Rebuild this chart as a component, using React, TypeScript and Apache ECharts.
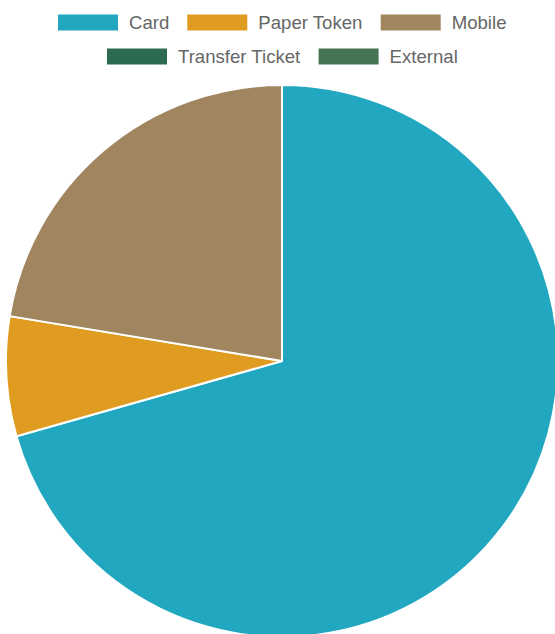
import React, { useEffect, useRef } from "react";
import * as echarts from "echarts";

const categories = ["Card", "Paper Token", "Mobile", "Transfer Ticket", "External"];
const values = [70.6, 7.0, 22.4, 0, 0];
const colors = ["#21a7bf", "#e09c20", "#a0855f", "#2d6a52", "#457453"];
const legendRow1 = ["Card", "Paper Token", "Mobile"];
const legendRow2 = ["Transfer Ticket", "External"];

export default function App() {
  const ref = useRef<HTMLDivElement>(null);
  useEffect(() => {
    if (!ref.current) return;
    const chart = echarts.init(ref.current, undefined, { renderer: "svg" });
    const legendBase = {
      orient: "horizontal",
      icon: "rect",
      padding: 0,
      itemWidth: 60,
      itemHeight: 16,
      itemGap: 18,
      itemStyle: { borderWidth: 0 },
      textStyle: {
        fontFamily: "Liberation Sans, Arial, sans-serif",
        fontSize: 18.6,
        color: "#666666",
        padding: [0, 0, 0, 6],
      },
      selectedMode: false,
    };
    chart.setOption({
      animation: false,
      color: colors,
      legend: [
        { ...legendBase, data: legendRow1, left: 58, top: 13 },
        { ...legendBase, data: legendRow2, left: 107, top: 47 },
      ],
      series: [
        {
          type: "pie",
          center: [282, 361],
          radius: 276,
          startAngle: 90,
          clockwise: true,
          stillShowZeroSum: true,
          label: { show: false },
          labelLine: { show: false },
          emphasis: { disabled: true },
          itemStyle: { borderColor: "#ffffff", borderWidth: 2 },
          data: categories.map((name, i) => ({ name, value: values[i] })),
        },
      ],
    });
    return () => chart.dispose();
  }, []);
  return (
    <div
      ref={ref}
      style={{ position: "fixed", left: 0, top: 0, width: 555, height: 634, background: "#ffffff" }}
    />
  );
}
